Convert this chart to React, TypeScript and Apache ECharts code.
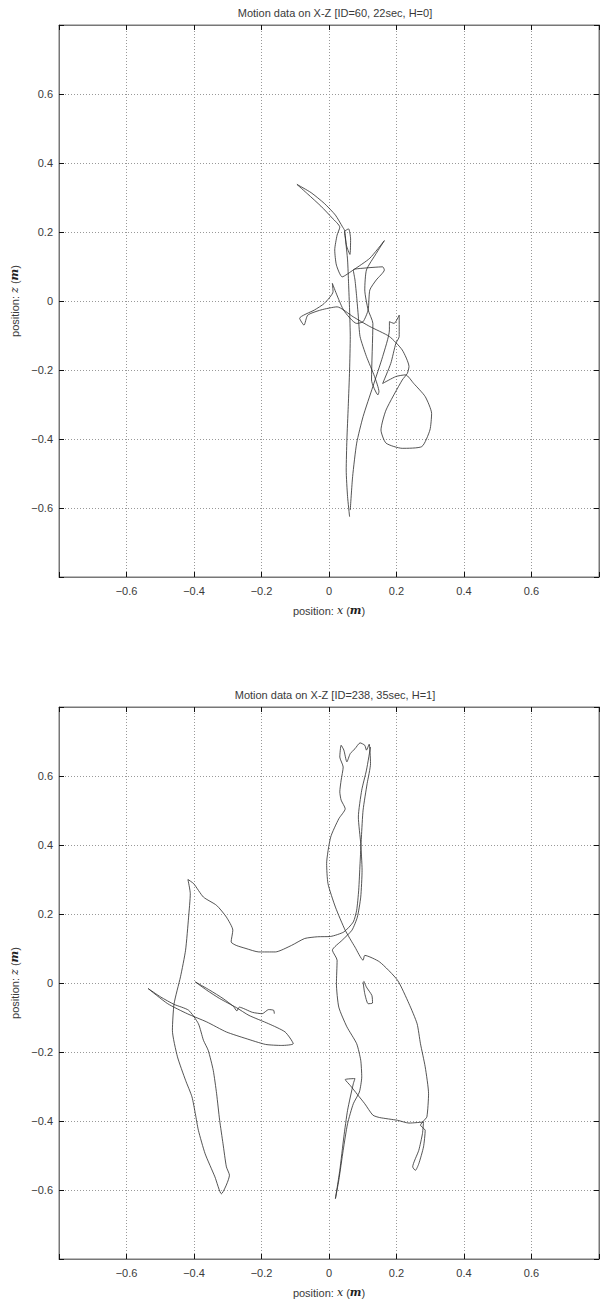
import React, { useEffect, useRef } from "react";
import * as echarts from "echarts";

const titles = [
  "Motion data on X-Z [ID=60, 22sec, H=0]",
  "Motion data on X-Z [ID=238, 35sec, H=1]",
];

// top chart trajectory [x, z] in metres
const topTrace: number[][] = [
  [0.061,-0.625],[0.055,-0.567],[0.051,-0.490],[0.053,-0.403],[0.057,-0.306],[0.061,-0.200],[0.063,-0.103],[0.061,-0.026],[0.058,0.051],[0.055,0.119],[0.049,0.177],[0.046,0.201],[0.058,0.209],[0.064,0.180],[0.062,0.135],[0.052,0.160],[0.046,0.205],[0.040,0.215],[0.019,0.249],[-0.014,0.283],[-0.053,0.314],[-0.095,0.338],[-0.063,0.310],[-0.024,0.275],[0.010,0.240],[0.032,0.214],[0.024,0.191],[0.017,0.148],[0.022,0.104],[0.039,0.070],[0.072,0.090],[0.121,0.124],[0.164,0.175],[0.140,0.138],[0.111,0.090],[0.106,0.032],[0.116,-0.026],[0.130,-0.065],[0.126,-0.229],[0.145,-0.272],[0.148,-0.263],[0.135,-0.219],[0.111,-0.161],[0.092,-0.103],[0.087,-0.046],[0.082,0.012],[0.077,0.061],[0.072,0.090],[0.101,0.095],[0.159,0.099],[0.164,0.090],[0.140,0.061],[0.121,0.032],[0.116,-0.026],[0.101,-0.060],[0.082,-0.065],[0.043,-0.026],[0.010,0.051],[0.012,0.027],[-0.014,-0.007],[-0.043,-0.026],[-0.087,-0.050],[-0.074,-0.070],[-0.063,-0.041],[-0.024,-0.026],[0.024,-0.017],[0.072,-0.046],[0.121,-0.074],[0.179,-0.103],[0.217,-0.142],[0.237,-0.190],[0.232,-0.210],[0.217,-0.229],[0.169,-0.316],[0.154,-0.374],[0.169,-0.412],[0.217,-0.427],[0.275,-0.422],[0.299,-0.374],[0.304,-0.326],[0.285,-0.277],[0.251,-0.239],[0.227,-0.214],[0.198,-0.219],[0.159,-0.239],[0.183,-0.181],[0.198,-0.123],[0.208,-0.103],[0.208,-0.041],[0.193,-0.065],[0.179,-0.060],[0.179,-0.084],[0.159,-0.161],[0.130,-0.248],[0.101,-0.335],[0.082,-0.412],[0.070,-0.509],[0.063,-0.606],
];

// bottom chart trajectory [x, z] in metres
const bottomTrace: number[][] = [
  [-0.162,-0.089],[-0.164,-0.079],[-0.179,-0.077],[-0.198,-0.089],[-0.227,-0.085],[-0.266,-0.070],[-0.273,-0.081],[-0.283,-0.068],[-0.314,-0.045],[-0.353,-0.021],[-0.396,0.003],[-0.362,-0.021],[-0.324,-0.045],[-0.275,-0.071],[-0.237,-0.094],[-0.179,-0.118],[-0.130,-0.142],[-0.106,-0.176],[-0.140,-0.181],[-0.188,-0.178],[-0.246,-0.161],[-0.304,-0.142],[-0.362,-0.113],[-0.420,-0.089],[-0.478,-0.060],[-0.536,-0.016],[-0.498,-0.041],[-0.459,-0.062],[-0.416,-0.079],[-0.387,-0.118],[-0.372,-0.166],[-0.358,-0.195],[-0.343,-0.253],[-0.333,-0.321],[-0.324,-0.398],[-0.314,-0.466],[-0.304,-0.533],[-0.295,-0.557],[-0.319,-0.611],[-0.338,-0.562],[-0.367,-0.495],[-0.387,-0.427],[-0.396,-0.379],[-0.406,-0.330],[-0.425,-0.282],[-0.449,-0.214],[-0.464,-0.137],[-0.459,-0.060],[-0.440,0.018],[-0.425,0.095],[-0.416,0.191],[-0.411,0.259],[-0.418,0.300],[-0.401,0.288],[-0.372,0.249],[-0.333,0.225],[-0.304,0.191],[-0.285,0.153],[-0.290,0.119],[-0.275,0.109],[-0.246,0.100],[-0.208,0.090],[-0.159,0.090],[-0.111,0.109],[-0.072,0.129],[-0.034,0.134],[0.005,0.135],[0.044,0.148],[0.072,0.177],[0.082,0.211],[0.088,0.269],[0.092,0.346],[0.096,0.423],[0.101,0.501],[0.113,0.578],[0.123,0.636],[0.119,0.692],[0.111,0.675],[0.106,0.689],[0.092,0.696],[0.077,0.679],[0.063,0.665],[0.053,0.641],[0.044,0.675],[0.036,0.689],[0.032,0.655],[0.042,0.626],[0.036,0.588],[0.032,0.554],[0.036,0.530],[0.048,0.505],[0.029,0.476],[0.005,0.423],[-0.007,0.346],[-0.003,0.288],[0.019,0.220],[0.048,0.153],[0.077,0.104],[0.101,0.066],[0.106,0.080],[0.150,0.061],[0.203,0.008],[0.237,-0.060],[0.261,-0.118],[0.271,-0.176],[0.285,-0.243],[0.295,-0.321],[0.290,-0.388],[0.280,-0.400],[0.271,-0.412],[0.285,-0.427],[0.280,-0.475],[0.266,-0.524],[0.256,-0.543],[0.248,-0.533],[0.266,-0.485],[0.277,-0.436],[0.280,-0.403],[0.237,-0.406],[0.203,-0.398],[0.150,-0.390],[0.130,-0.383],[0.106,-0.350],[0.084,-0.323],[0.063,-0.297],[0.048,-0.280],[0.077,-0.277],[0.072,-0.292],[0.055,-0.369],[0.044,-0.446],[0.032,-0.543],[0.019,-0.625],[0.029,-0.572],[0.042,-0.485],[0.055,-0.408],[0.072,-0.350],[0.090,-0.316],[0.097,-0.272],[0.094,-0.224],[0.082,-0.176],[0.053,-0.127],[0.029,-0.070],[0.022,-0.002],[0.024,0.066],[0.010,0.095],[0.039,0.124],[0.068,0.153],[0.084,0.191],[0.094,0.249],[0.098,0.327],[0.094,0.404],[0.087,0.481],[0.097,0.559],[0.111,0.617],[0.123,0.684],
];

const bottomHook: number[][] = [
  [0.101,0.003],[0.106,-0.031],[0.116,-0.060],[0.129,-0.058],[0.127,-0.036],[0.111,-0.012],[0.103,0.006],
];

const plotTops = [25, 707];
const PLOT_LEFT = 59;
const PLOT_SIZE = 552;

const fmt = (v: number) => {
  if (Math.abs(v) > 0.7) return "";
  if (Math.abs(v) < 1e-9) return "0";
  return (v < 0 ? "\u2212" : "") + Math.abs(v).toFixed(1);
};

const FONT = "Liberation Sans";
const TEXT_COLOR = "#3a3a3a";

export default function App() {
  const ref = useRef<HTMLDivElement>(null);
  useEffect(() => {
    if (!ref.current) return;
    const chart = echarts.init(ref.current, null, { renderer: "svg" });
    const grids: any[] = [];
    const xAxes: any[] = [];
    const yAxes: any[] = [];
    const series: any[] = [];
    const graphics: any[] = [];
    const rich = {
      it: { fontStyle: "italic", fontFamily: "DejaVu Serif", fontSize: 11, color: "#222" },
      bi: { fontStyle: "italic", fontWeight: "bold", fontFamily: "DejaVu Serif", fontSize: 11, color: "#222" },
      n: { fontFamily: FONT, fontSize: 11, color: TEXT_COLOR },
    };
    const traces = [[topTrace], [bottomTrace, bottomHook]];
    const axisLine = { show: true, onZero: false, lineStyle: { color: "#777", width: 1 } };
    const axisTick = { show: true, inside: true, length: 5, lineStyle: { color: "#111" } };
    const split = { show: true, lineStyle: { color: "#999", type: [1, 2], width: 1 } };
    plotTops.forEach((top, i) => {
      grids.push({
        left: PLOT_LEFT,
        top,
        width: PLOT_SIZE,
        height: PLOT_SIZE,
        show: true,
        borderColor: "#777",
        borderWidth: 1,
        backgroundColor: "#fff",
      });
      const common = {
        type: "value",
        min: -0.8,
        max: 0.8,
        interval: 0.2,
        gridIndex: i,
      };
      xAxes.push({
        ...common,
        position: "bottom",
        axisLine,
        axisTick,
        axisLabel: { formatter: fmt, color: TEXT_COLOR, fontFamily: FONT, fontSize: 11, margin: 8 },
        splitLine: split,
        name: "{n|position: }{it|x}{n| (}{bi|m}{n|)}",
        nameLocation: "middle",
        nameGap: 28,
        nameTextStyle: { rich },
      });
      xAxes.push({
        ...common,
        position: "top",
        axisLine,
        axisTick,
        axisLabel: { show: false },
        splitLine: { show: false },
      });
      yAxes.push({
        ...common,
        position: "left",
        axisLine,
        axisTick,
        axisLabel: { formatter: fmt, color: TEXT_COLOR, fontFamily: FONT, fontSize: 11, margin: 6 },
        splitLine: split,
        name: "{n|position: }{it|z}{n| (}{bi|m}{n|)}",
        nameLocation: "middle",
        nameGap: 34,
        nameRotate: 90,
        nameTextStyle: { rich },
      });
      yAxes.push({
        ...common,
        position: "right",
        axisLine,
        axisTick,
        axisLabel: { show: false },
        splitLine: { show: false },
      });
      traces[i].forEach((tr) => {
        series.push({
          type: "line",
          xAxisIndex: i * 2,
          yAxisIndex: i * 2,
          data: tr,
          showSymbol: false,
          symbol: "none",
          smooth: 0.2,
          lineStyle: { color: "#2a2a2a", width: 0.8 },
          silent: true,
          z: 5,
        });
      });
      graphics.push({
        type: "text",
        x: PLOT_LEFT + PLOT_SIZE / 2,
        y: top - 12,
        style: {
          text: titles[i],
          textAlign: "center",
          textVerticalAlign: "middle",
          fontFamily: FONT,
          fontSize: 11,
          fill: TEXT_COLOR,
        },
      });
    });
    chart.setOption({
      animation: false,
      backgroundColor: "#fff",
      grid: grids,
      xAxis: xAxes,
      yAxis: yAxes,
      series,
      graphic: graphics,
    });
    return () => chart.dispose();
  }, []);
  return (
    <div
      ref={ref}
      style={{ position: "absolute", left: 0, top: 0, width: 602, height: 1301 }}
    />
  );
}
